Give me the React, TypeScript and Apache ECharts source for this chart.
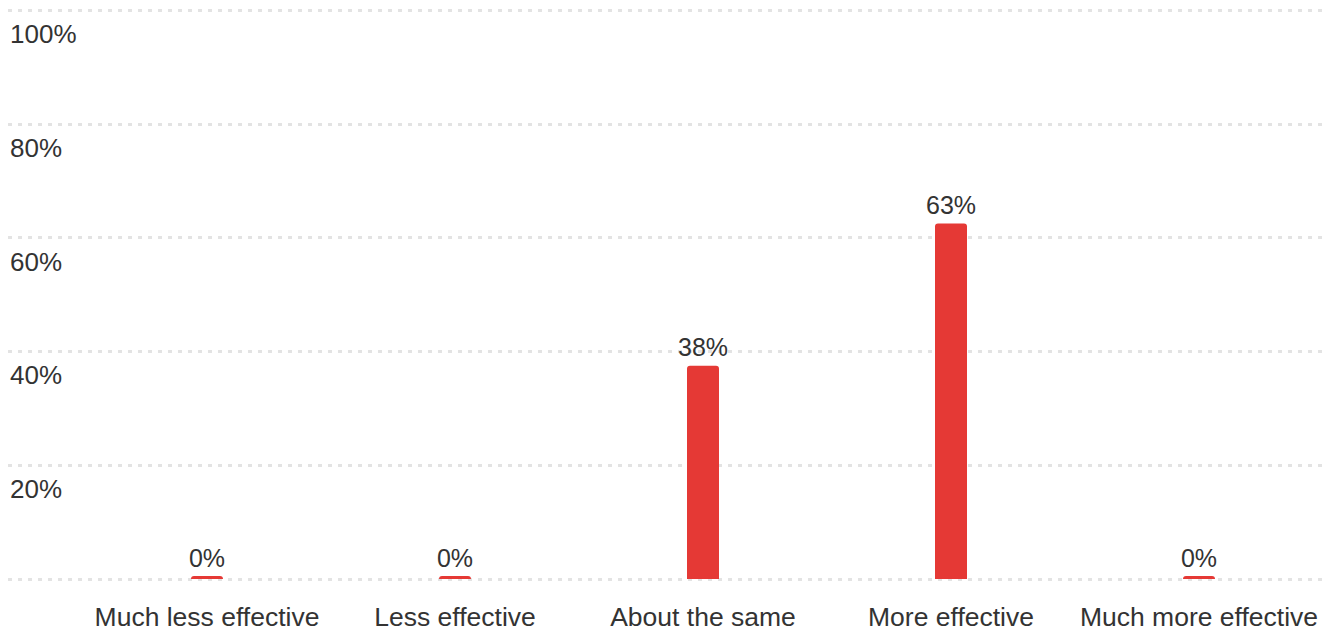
import React, { useEffect, useRef } from "react";
import * as echarts from "echarts";

const categories = [
  "Much less effective",
  "Less effective",
  "About the same",
  "More effective",
  "Much more effective",
];
const values = [0, 0, 37.5, 62.5, 0];
const yTicks = [0, 20, 40, 60, 80, 100];

const FONT = "Liberation Sans, Arial, Helvetica, sans-serif";

export default function App() {
  const ref = useRef<HTMLDivElement>(null);
  useEffect(() => {
    document.body.style.margin = "0";
    const chart = echarts.init(ref.current!, null, { renderer: "svg" });
    chart.setOption({
      animation: false,
      backgroundColor: "#ffffff",
      textStyle: { fontFamily: FONT },
      grid: [
        { left: 83, right: 12, top: 10, bottom: 54 },
        { left: 8, right: 10, top: 10, bottom: 54 },
      ],
      xAxis: [
        {
          type: "category",
          gridIndex: 0,
          data: categories,
          axisLine: { show: false },
          axisTick: { show: false },
          axisLabel: {
            color: "#333333",
            fontSize: 26.5,
            fontFamily: FONT,
            margin: 24,
            interval: 0,
          },
        },
        { type: "value", gridIndex: 1, show: false, min: 0, max: 1 },
      ],
      yAxis: [
        {
          type: "value",
          gridIndex: 0,
          min: yTicks[0],
          max: yTicks[yTicks.length - 1],
          interval: 20,
          show: false,
          splitLine: { show: false },
        },
        {
          type: "value",
          gridIndex: 1,
          min: yTicks[0],
          max: yTicks[yTicks.length - 1],
          interval: 20,
          axisLine: { show: false },
          axisTick: { show: false },
          splitLine: {
            show: true,
            lineStyle: { color: "#e3e3e3", width: 3, type: [4, 6] },
          },
          axisLabel: {
            inside: true,
            margin: 2,
            color: "#333333",
            fontSize: 26,
            fontFamily: FONT,
            verticalAlign: "top",
            padding: [11, 0, 0, 0],
            formatter: (v: number) => (v === 0 ? "" : v + "%"),
          },
        },
      ],
      series: [
        {
          type: "bar",
          xAxisIndex: 0,
          yAxisIndex: 0,
          data: values,
          barWidth: 32,
          barMinHeight: 3,
          z: 5,
          itemStyle: { color: "#e53935", borderRadius: [3, 3, 0, 0] },
          label: {
            show: true,
            position: "top",
            distance: 6,
            color: "#333333",
            fontSize: 25,
            fontFamily: FONT,
            formatter: (p: any) => Math.round(p.value) + "%",
          },
        },
      ],
    });
    return () => chart.dispose();
  }, []);
  return (
    <div
      ref={ref}
      style={{ position: "fixed", left: 0, top: 0, width: 1335, height: 633 }}
    />
  );
}
